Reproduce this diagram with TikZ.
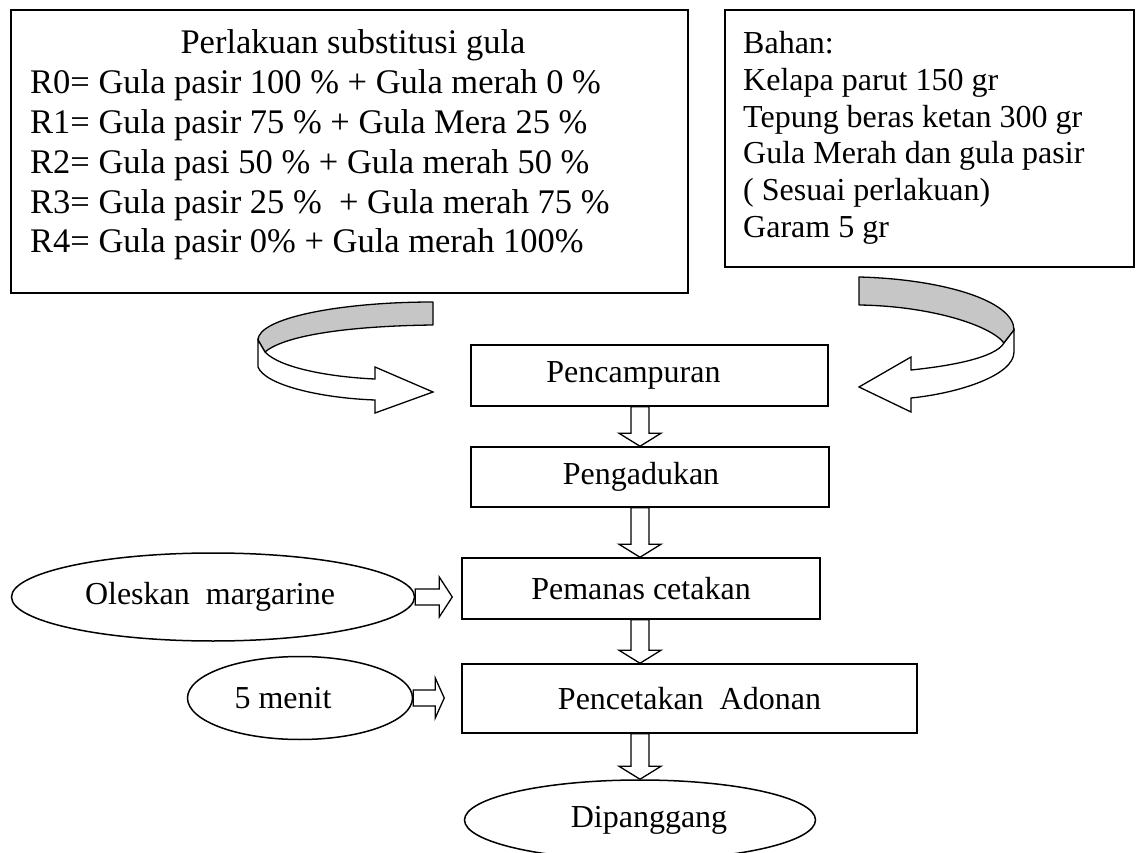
\documentclass[tikz,border=0pt]{standalone}
\usepackage{fontspec}
\setmainfont{Liberation Serif}
\usetikzlibrary{calc,shapes.geometric}
\tikzset{
  procbox/.style={draw, line width=1.5pt, inner sep=0pt, fill=white, font=\fontsize{32}{37}\selectfont},
  ovalnode/.style={draw, ellipse, line width=1.5pt, inner sep=0pt, fill=white, font=\fontsize{32}{37}\selectfont},
  bigtxt/.style={inner sep=0pt, font=\fontsize{34.5}{40}\selectfont},
  smalltxt/.style={inner sep=0pt, anchor=base west, font=\fontsize{32}{37}\selectfont},
  blk/.style={draw, line width=1.3pt, fill=white, line join=miter},
  grayband/.style={draw, line width=1.3pt, fill=gray!45, line join=round},
  whiteband/.style={draw, line width=1.3pt, fill=white, line join=miter}
}
% vertical block arrow: from node #1 (south) to node #2 (north) at x=#3
\newcommand\vblk[3]{%
  \draw[blk] let \p1=(#1.south), \p2=(#2.north) in
    ({#3pt-9pt},\y1) -- ({#3pt+9pt},\y1) -- ({#3pt+9pt},{\y2+13pt}) --
    ({#3pt+21pt},{\y2+13pt}) -- (#3pt,\y2) -- ({#3pt-21pt},{\y2+13pt}) --
    ({#3pt-9pt},{\y2+13pt}) -- cycle;}
% horizontal block arrow: from node #1 (east) towards node #2 (west), stopping #3 short, head length #4
\newcommand\hblk[4]{%
  \draw[blk] let \p1=(#1.east), \p2=(#2.west) in
    (\x1,{\y1+8pt}) -- ({\x2-#3-#4},{\y1+8pt}) -- ({\x2-#3-#4},{\y1+20pt}) --
    ({\x2-#3},\y1) -- ({\x2-#3-#4},{\y1-20pt}) -- ({\x2-#3-#4},{\y1-8pt}) --
    (\x1,{\y1-8pt}) -- cycle;}
\begin{document}
\begin{tikzpicture}[x=1pt,y=-1pt]
\useasboundingbox (0,0) rectangle (1136,853);
\fill[white] (0,0) rectangle (1136,853);

% top boxes
\node[procbox, minimum width=677pt, minimum height=283pt] (treat) at (349.5,151.5) {};
\node[bigtxt, anchor=base] (t0) at (353,54) {Perlakuan substitusi gula};
\node[bigtxt, anchor=base west] (t1) at (30,94) {R0= Gula pasir 100 \% + Gula merah 0 \%};
\node[bigtxt, anchor=base west] (t2) at (30,134) {R1= Gula pasir 75 \% + Gula Mera 25 \%};
\node[bigtxt, anchor=base west] (t3) at (30,174) {R2= Gula pasi 50 \% + Gula merah 50 \%};
\node[bigtxt, anchor=base west] (t4) at (30,214) {R3= Gula pasir 25 \%\ \ + Gula merah 75 \%};
\node[bigtxt, anchor=base west] (t5) at (30,253) {R4= Gula pasir 0\% + Gula merah 100\%};

\node[procbox, minimum width=409pt, minimum height=257pt] (bahan) at (929.5,138.5) {};
\node[smalltxt] (b0) at (743,54) {Bahan:};
\node[smalltxt] (b1) at (743,91) {Kelapa parut 150 gr};
\node[smalltxt] (b2) at (743,128) {Tepung beras ketan 300 gr};
\node[smalltxt] (b3) at (743,164) {Gula Merah dan gula pasir};
\node[smalltxt] (b4) at (743,201) {( Sesuai perlakuan)};
\node[smalltxt] (b5) at (743,238) {Garam 5 gr};

% process boxes
\node[procbox, minimum width=357pt, minimum height=61pt] (mix) at (649.5,375.5) {Pencampuran\kern32pt};
\node[procbox, minimum width=358pt, minimum height=60pt] (stir) at (650,477) {Pengadukan\kern18pt};
\node[procbox, minimum width=358pt, minimum height=61pt] (heat) at (641,588.5) {Pemanas cetakan};
\node[procbox, minimum width=455pt, minimum height=69pt] (mold) at (689.5,698.5) {Pencetakan\ \ Adonan};
\node[ovalnode, minimum width=351pt, minimum height=80pt] (bake) at (640,820) {\kern18pt Dipanggang};

% side ellipses
\node[ovalnode, minimum width=403pt, minimum height=88pt] (marg) at (213,597) {Oleskan\ \ margarine\kern6pt};
\node[ovalnode, minimum width=225pt, minimum height=83pt] (five) at (300,698) {5 menit\kern34pt};

% vertical block arrows
\vblk{mix}{stir}{640}
\vblk{stir}{heat}{640}
\vblk{heat}{mold}{640}
\vblk{mold}{bake}{640}

% horizontal block arrows
\hblk{marg}{heat}{9pt}{13pt}
\hblk{five}{mold}{17pt}{9pt}

% left curved arrow
\draw[grayband] (433,302) .. controls (340,302) and (258,318) .. (258,340)
  -- (265,352) .. controls (285,335) and (350,326) .. (433,325) -- cycle;
\draw[whiteband] (258,340) -- (258,367) .. controls (265,385) and (320,398) .. (375,400)
  -- (375,413) -- (433,392) -- (375,367) -- (375,379)
  .. controls (330,377) and (280,368) .. (265,352) -- cycle;
\coordinate (lcTip) at (433,392);

% right curved arrow
\draw[grayband] (859,277) .. controls (940,279) and (1014,300) .. (1014,330)
  -- (1004,343) .. controls (990,325) and (930,306) .. (859,305) -- cycle;
\draw[whiteband] (1014,330) -- (1014,352) .. controls (1014,375) and (960,393) .. (911,398)
  -- (911,412) -- (859,387) -- (911,357) -- (911,370)
  .. controls (950,366) and (995,358) .. (1004,343) -- cycle;
\coordinate (rcTip) at (859,387);
\end{tikzpicture}
\end{document}
